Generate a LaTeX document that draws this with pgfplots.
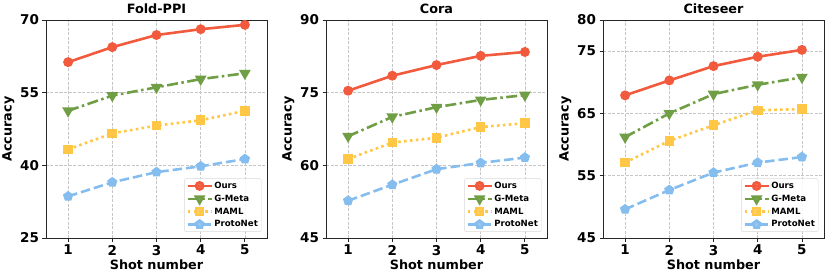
\documentclass[border=0pt]{standalone}
\usepackage{pgfplots}
\pgfplotsset{compat=1.18}
\usepackage{fontspec}
\setmainfont{DejaVu Sans}
\definecolor{cOurs}{HTML}{F25A3E}
\definecolor{cGMeta}{HTML}{6F9E45}
\definecolor{cMAML}{HTML}{FFC745}
\definecolor{cProto}{HTML}{85BDEE}
\pgfplotsset{
 myax/.style={
  scale only axis, width=221pt, height=218pt,
  xmin=0.5, xmax=5.5, xtick={1,2,3,4,5},
  grid=major, major grid style={dash pattern=on 3pt off 1.5pt, gray!45, line width=0.45pt},
  tick pos=left, tick align=outside, major tick length=3.5pt,
  axis line style={line width=0.8pt, black!85},
  every tick/.style={black!85, line width=0.8pt},
  tick label style={font=\fontsize{13.5}{13.5}\selectfont\bfseries},
  /pgf/number format/assume math mode=true,
  label style={font=\fontsize{12.8}{12.8}\selectfont\bfseries},
  title style={font=\fontsize{12.8}{12.8}\selectfont\bfseries, yshift=-3pt},
  xlabel={Shot number}, ylabel={Accuracy},
  xlabel style={yshift=2pt},
  ylabel style={yshift=-1pt},
  legend style={at={(0.975,0.028)}, anchor=south east,
    font=\fontsize{8.6}{9}\selectfont\bfseries, draw=gray!30, rounded corners=2pt,
    fill=white, fill opacity=0.85, text opacity=1, inner sep=2pt, row sep=2.2pt,
    nodes={inner sep=1.4pt}},
  legend cell align=left,
  legend image code/.code={
    \draw[mark repeat=2,mark phase=2] plot coordinates {(0cm,0cm) (0.42cm,0cm) (0.84cm,0cm)};},
 },
 sOurs/.style={cOurs, solid, line width=2.6pt, mark=*, mark size=3.6pt, mark options={solid}},
 sGMeta/.style={cGMeta, dash pattern=on 11pt off 3.5pt on 2.5pt off 3.5pt, line width=2.6pt, mark=triangle*, mark size=4.2pt, mark options={solid, rotate=180}},
 sMAML/.style={cMAML, dash pattern=on 2.6pt off 3.3pt, line width=2.6pt, mark=square*, mark size=3.5pt, mark options={solid}},
 sProto/.style={cProto, dash pattern=on 9.5pt off 4pt, line width=2.6pt, mark=pentagon*, mark size=3.8pt, mark options={solid}},
}
\begin{document}
\begin{tikzpicture}
\useasboundingbox (0,0) rectangle (830pt,279pt);
\begin{axis}[myax, at={(46pt,41pt)}, anchor=south west, title={Fold-PPI},
  ymin=25, ymax=70, ytick={25,40,55,70}]
\addplot[sOurs] coordinates {(1,61.3) (2,64.4) (3,66.9) (4,68.1) (5,69.0)};
\addplot[sGMeta] coordinates {(1,51.25) (2,54.4) (3,56.1) (4,57.8) (5,59.0)};
\addplot[sMAML] coordinates {(1,43.3) (2,46.6) (3,48.2) (4,49.3) (5,51.25)};
\addplot[sProto] coordinates {(1,33.6) (2,36.5) (3,38.6) (4,39.8) (5,41.3)};
\legend{Ours, G-Meta, MAML, ProtoNet}
\end{axis}
\begin{axis}[myax, at={(326pt,41pt)}, anchor=south west, title={Cora},
  ymin=45, ymax=90, ytick={45,60,75,90}]
\addplot[sOurs] coordinates {(1,75.4) (2,78.5) (3,80.7) (4,82.6) (5,83.4)};
\addplot[sGMeta] coordinates {(1,66.0) (2,70.0) (3,72.0) (4,73.5) (5,74.5)};
\addplot[sMAML] coordinates {(1,61.3) (2,64.7) (3,65.7) (4,67.9) (5,68.7)};
\addplot[sProto] coordinates {(1,52.7) (2,56.0) (3,59.2) (4,60.5) (5,61.6)};
\legend{Ours, G-Meta, MAML, ProtoNet}
\end{axis}
\begin{axis}[myax, at={(603pt,41pt)}, anchor=south west, title={Citeseer},
  ymin=45, ymax=80, ytick={45,55,65,75,80}]
\addplot[sOurs] coordinates {(1,67.9) (2,70.3) (3,72.6) (4,74.1) (5,75.2)};
\addplot[sGMeta] coordinates {(1,61.2) (2,65.0) (3,68.1) (4,69.6) (5,70.8)};
\addplot[sMAML] coordinates {(1,57.1) (2,60.6) (3,63.1) (4,65.5) (5,65.7)};
\addplot[sProto] coordinates {(1,49.6) (2,52.7) (3,55.5) (4,57.1) (5,58.0)};
\legend{Ours, G-Meta, MAML, ProtoNet}
\end{axis}
\end{tikzpicture}
\end{document}
